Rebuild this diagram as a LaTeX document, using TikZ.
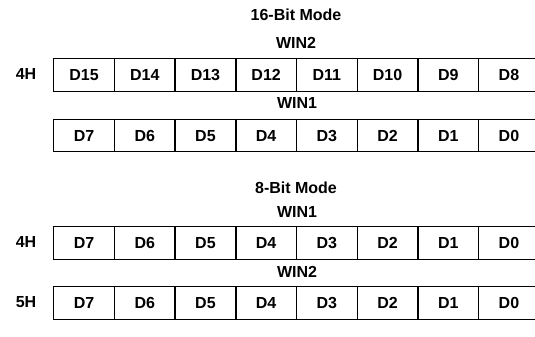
\documentclass[tikz,border=0pt]{standalone}
\usepackage{fontspec}
\setmainfont{Liberation Sans}
\begin{document}
\begin{tikzpicture}[x=1pt,y=-1pt,
  cell/.style={draw, line width=1.4pt, minimum width=60.7pt, minimum height=32.5pt,
    inner sep=0pt, text height=11.5pt, text depth=0pt, anchor=north west,
    font=\fontsize{16}{16}\selectfont\bfseries},
  lbl/.style={inner sep=0pt, text height=11.5pt, text depth=0pt,
    font=\fontsize{16}{16}\selectfont\bfseries}]
\useasboundingbox (0,0) rectangle (535,337);
\clip (0,0) rectangle (535,337);
% titles
\node[lbl] (t16) at (296,15) {16-Bit Mode};
\node[lbl] (w16a) at (296,43) {WIN2};
\node[lbl] (w16b) at (297,103) {WIN1};
\node[lbl] (t8) at (296,188) {8-Bit Mode};
\node[lbl] (w8a) at (297,212) {WIN1};
\node[lbl] (w8b) at (297,272) {WIN2};
% address labels
\node[lbl] (h1) at (26,74) {4H};
\node[lbl] (h2) at (26,242) {4H};
\node[lbl] (h3) at (26,302) {5H};
% rows
\foreach \t [count=\i from 0] in {D15,D14,D13,D12,D11,D10,D9,D8}
  \node[cell] (a\i) at ({53+60.7*\i},58) {\t};
\foreach \t [count=\i from 0] in {D7,D6,D5,D4,D3,D2,D1,D0}
  \node[cell] (b\i) at ({53+60.7*\i},118.5) {\t};
\foreach \t [count=\i from 0] in {D7,D6,D5,D4,D3,D2,D1,D0}
  \node[cell] (c\i) at ({53+60.7*\i},226) {\t};
\foreach \t [count=\i from 0] in {D7,D6,D5,D4,D3,D2,D1,D0}
  \node[cell] (d\i) at ({53+60.7*\i},286) {\t};
\end{tikzpicture}
\end{document}
